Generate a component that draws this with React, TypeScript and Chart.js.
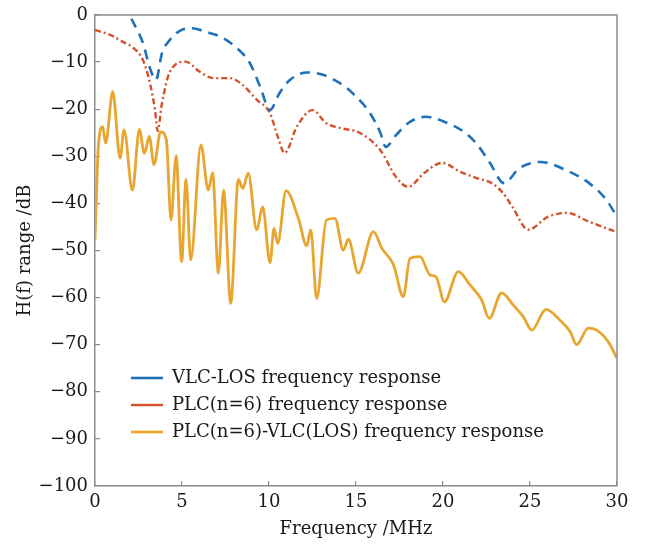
import React, { useEffect, useRef } from "react";
import { Chart, registerables } from "chart.js";

Chart.register(...registerables);

// VLC-LOS frequency response
const vlcX = [1.4, 2.0, 2.76, 3.16, 3.5, 3.85, 4.3, 4.9, 5.6, 6.3, 7.2, 8.15, 8.9, 9.5, 10.05, 10.6, 11.2, 12.2, 13.1, 14.25, 14.8, 15.8, 16.4, 16.7, 17.3, 18.1, 19.0, 20.1, 21.2, 21.9, 22.7, 23.5, 24.4, 25.6, 27.1, 28.4, 29.4, 30];
const vlcY = [6, 0, -6, -11.3, -13.8, -8.1, -5.3, -3.3, -2.8, -3.5, -4.6, -7.0, -10.2, -15.3, -20.2, -16.6, -13.8, -12.2, -12.7, -14.9, -16.6, -20.8, -25, -28, -25.5, -22.7, -21.6, -22.7, -24.8, -27.2, -31.4, -35.7, -32.5, -31.2, -33, -35.7, -39.3, -42.9];

// PLC(n=6) frequency response
const plcX = [0, 0.86, 1.6, 2.2, 2.76, 3.16, 3.45, 3.6, 3.85, 4.3, 5.2, 6.0, 6.8, 7.75, 8.5, 9.3, 10.05, 10.5, 10.9, 11.6, 12.5, 13.3, 14.1, 15.2, 16.4, 17.3, 18.0, 18.9, 19.95, 21.0, 21.9, 22.8, 23.45, 24.0, 24.9, 26.0, 27.1, 28.4, 30];
const plcY = [-3.2, -4.2, -5.7, -7, -9.6, -14.5, -20.2, -24.6, -18.7, -12.1, -9.9, -12.0, -13.4, -13.4, -14.9, -18, -20.8, -25.8, -29.3, -23.7, -20.2, -23, -24, -25, -28.7, -34.4, -36.5, -33.6, -31.4, -33.3, -34.6, -35.7, -37.8, -40.8, -45.6, -42.9, -42.0, -43.9, -46.1];

// PLC(n=6)-VLC(LOS) frequency response
const mixX = [0, 0.19, 0.44, 0.61, 1.02, 1.44, 1.67, 2.15, 2.55, 2.84, 3.12, 3.39, 3.77, 4.1, 4.37, 4.66, 4.98, 5.23, 5.5, 6.09, 6.51, 6.76, 7.09, 7.39, 7.8, 8.24, 8.49, 8.81, 9.29, 9.64, 10.06, 10.29, 10.5, 10.98, 11.69, 12.17, 12.4, 12.74, 13.3, 13.79, 14.27, 14.56, 15.13, 16.0, 16.48, 17.15, 17.72, 18.1, 18.68, 19.25, 19.6, 20.08, 20.88, 21.55, 22.22, 22.66, 23.37, 24.04, 24.62, 25.1, 25.92, 26.72, 27.3, 27.68, 28.35, 28.83, 29.5, 30];
const mixY = [-47.8, -28, -23.7, -27.2, -16.3, -30.4, -24.4, -37.2, -24.3, -29.4, -25.8, -31.8, -24.8, -26.5, -43.5, -29.9, -52.4, -34.9, -52, -27.6, -37.2, -33.5, -54.8, -37.2, -61.2, -34.9, -36.8, -33.6, -45.6, -40.8, -52.6, -45.3, -48.5, -37.3, -43.2, -49, -45.6, -60.2, -43.5, -43.2, -49.9, -47.6, -54.8, -46, -49.5, -53, -59.8, -51.7, -51.3, -55.2, -55.6, -60.9, -54.5, -57.3, -60.5, -64.4, -59, -61.6, -64.1, -66.9, -62.5, -64.8, -67.2, -70, -66.5, -66.9, -69.4, -72.9];

const seriesLabels = [
  "VLC-LOS frequency response",
  "PLC(n=6) frequency response",
  "PLC(n=6)-VLC(LOS) frequency response",
];

const xTitle = "Frequency /MHz";
const yTitle = "H(f) range /dB";

const FONT = "'DejaVu Serif', serif";
const AXIS_COLOR = "#8c8c8c";
const TEXT_COLOR = "#1a1a1a";

const toPoints = (xs: number[], ys: number[]) => xs.map((x, i) => ({ x, y: ys[i] }));

const boxPlugin = {
  id: "boxPlugin",
  afterLayout(chart: any) {
    const lg = chart.legend;
    if (lg) {
      const w = lg.width;
      lg.left = 122;
      lg.right = 122 + w;
      lg.top = 360;
      lg.bottom = 360 + 90;
    }
  },
  afterDatasetsDraw(chart: any) {
    const { ctx, chartArea } = chart;
    ctx.save();
    ctx.strokeStyle = AXIS_COLOR;
    ctx.lineWidth = 1.5;
    ctx.beginPath();
    ctx.moveTo(chartArea.left, chartArea.top);
    ctx.lineTo(chartArea.right, chartArea.top);
    ctx.lineTo(chartArea.right, chartArea.bottom);
    ctx.stroke();
    ctx.restore();
  },
};

export default function App() {
  const ref = useRef<HTMLCanvasElement | null>(null);

  useEffect(() => {
    if (!ref.current) return;
    const chart = new Chart(ref.current, {
      type: "line",
      data: {
        datasets: [
          {
            label: seriesLabels[0],
            data: toPoints(vlcX, vlcY),
            borderColor: "#1f72b8",
            borderWidth: 2.6,
            borderDash: [10, 7],
            pointRadius: 0,
            fill: false,
            cubicInterpolationMode: "monotone",
          },
          {
            label: seriesLabels[1],
            data: toPoints(plcX, plcY),
            borderColor: "#d4522a",
            borderWidth: 2.4,
            borderDash: [6, 3, 2, 3],
            pointRadius: 0,
            fill: false,
            cubicInterpolationMode: "monotone",
          },
          {
            label: seriesLabels[2],
            data: toPoints(mixX, mixY),
            borderColor: "#e8a631",
            borderWidth: 2.8,
            pointRadius: 0,
            fill: false,
            cubicInterpolationMode: "monotone",
          },
        ],
      },
      options: {
        animation: false,
        responsive: false,
        layout: { padding: { left: 0, right: 28, top: 15, bottom: 0 } },
        plugins: {
          tooltip: { enabled: false },
          legend: {
            position: "chartArea",
            align: "start",
            labels: {
              usePointStyle: true,
              pointStyle: "line",
              pointStyleWidth: 32,
              boxHeight: 18,
              padding: 9,
              color: TEXT_COLOR,
              font: { family: FONT, size: 18 },
            },
          },
        },
        scales: {
          x: {
            type: "linear",
            min: 0,
            max: 30,
            afterFit: (s: any) => {
              s.height = 58;
            },
            ticks: {
              stepSize: 5,
              padding: 11,
              color: TEXT_COLOR,
              font: { family: FONT, size: 18 },
            },
            grid: {
              drawOnChartArea: false,
              tickLength: -5,
              color: AXIS_COLOR,
              lineWidth: 1.2,
            },
            border: { color: AXIS_COLOR, width: 1.5 },
            title: {
              display: true,
              text: xTitle,
              color: TEXT_COLOR,
              font: { family: FONT, size: 18 },
              padding: { top: 0, bottom: 4 },
            },
          },
          y: {
            type: "linear",
            min: -100,
            max: 0,
            afterFit: (s: any) => {
              s.width = 95;
              s.paddingTop = 0;
              s.paddingBottom = 0;
            },
            ticks: {
              stepSize: 10,
              padding: 12,
              color: TEXT_COLOR,
              font: { family: FONT, size: 18 },
              callback: (v: any) => String(v).replace("-", "\u2212"),
            },
            grid: {
              drawOnChartArea: false,
              tickLength: -5,
              color: AXIS_COLOR,
              lineWidth: 1.2,
            },
            border: { color: AXIS_COLOR, width: 1.5 },
            title: {
              display: true,
              text: yTitle,
              color: TEXT_COLOR,
              font: { family: FONT, size: 18 },
              padding: { top: 15, bottom: 0 },
            },
          },
        },
      },
      plugins: [boxPlugin],
    });
    return () => chart.destroy();
  }, []);

  return (
    <div style={{ position: "fixed", left: 0, top: 0, width: 645, height: 544, background: "#fff" }}>
      <canvas ref={ref} width={645} height={544} style={{ display: "block" }} />
    </div>
  );
}
